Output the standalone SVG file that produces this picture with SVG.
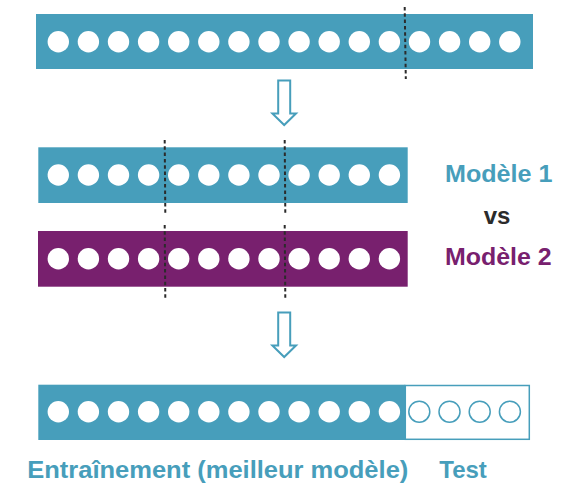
<svg xmlns="http://www.w3.org/2000/svg" width="563" height="492" viewBox="0 0 563 492">
<style>
.teal{fill:#479EBB}
.purple{fill:#78206E}
.dot{fill:#ffffff}
.odot{fill:#ffffff;stroke:#479EBB;stroke-width:1.5}
.cut{stroke:#2b2b2b;stroke-width:2;stroke-dasharray:3.5 2.8;fill:none}
.arrow{fill:#ffffff;stroke:#479EBB;stroke-width:2;stroke-linejoin:miter}
.lbl{font-family:"Liberation Sans",Arial,sans-serif;font-weight:bold;font-size:24px}
</style>
<defs>
<circle id="c" r="10.7" class="dot"/>
<circle id="oc" r="10.5" class="odot"/>
</defs>
<rect width="563" height="492" fill="#ffffff"/>
<g id="top-bar">
<rect x="36" y="14" width="497" height="55" class="teal"/>
<use href="#c" x="58.3" y="41.7"/><use href="#c" x="88.4" y="41.7"/><use href="#c" x="118.5" y="41.7"/><use href="#c" x="148.6" y="41.7"/>
<use href="#c" x="178.7" y="41.7"/><use href="#c" x="208.8" y="41.7"/><use href="#c" x="238.9" y="41.7"/><use href="#c" x="269" y="41.7"/>
<use href="#c" x="299.1" y="41.7"/><use href="#c" x="329.2" y="41.7"/><use href="#c" x="359.3" y="41.7"/><use href="#c" x="389.4" y="41.7"/>
<use href="#c" x="419.5" y="41.7"/><use href="#c" x="449.6" y="41.7"/><use href="#c" x="479.7" y="41.7"/><use href="#c" x="509.8" y="41.7"/>
</g>
<g id="model1-bar">
<rect x="38.3" y="147.3" width="369.4" height="55.7" class="teal"/>
<use href="#c" x="58.3" y="175"/><use href="#c" x="88.4" y="175"/><use href="#c" x="118.5" y="175"/><use href="#c" x="148.6" y="175"/>
<use href="#c" x="178.7" y="175"/><use href="#c" x="208.8" y="175"/><use href="#c" x="238.9" y="175"/><use href="#c" x="269" y="175"/>
<use href="#c" x="299.1" y="175"/><use href="#c" x="329.2" y="175"/><use href="#c" x="359.3" y="175"/><use href="#c" x="389.4" y="175"/>
</g>
<g id="model2-bar">
<rect x="38" y="231" width="369.7" height="55.7" class="purple"/>
<use href="#c" x="58.3" y="258.7"/><use href="#c" x="88.4" y="258.7"/><use href="#c" x="118.5" y="258.7"/><use href="#c" x="148.6" y="258.7"/>
<use href="#c" x="178.7" y="258.7"/><use href="#c" x="208.8" y="258.7"/><use href="#c" x="238.9" y="258.7"/><use href="#c" x="269" y="258.7"/>
<use href="#c" x="299.1" y="258.7"/><use href="#c" x="329.2" y="258.7"/><use href="#c" x="359.3" y="258.7"/><use href="#c" x="389.4" y="258.7"/>
</g>
<g id="final-bar">
<rect x="38.3" y="384.7" width="367" height="55.3" class="teal"/>
<rect x="405.3" y="385.5" width="124" height="53.8" fill="#ffffff" stroke="#479EBB" stroke-width="1.5"/>
<use href="#c" x="58.3" y="411.7"/><use href="#c" x="88.4" y="411.7"/><use href="#c" x="118.5" y="411.7"/><use href="#c" x="148.6" y="411.7"/>
<use href="#c" x="178.7" y="411.7"/><use href="#c" x="208.8" y="411.7"/><use href="#c" x="238.9" y="411.7"/><use href="#c" x="269" y="411.7"/>
<use href="#c" x="299.1" y="411.7"/><use href="#c" x="329.2" y="411.7"/><use href="#c" x="359.3" y="411.7"/><use href="#c" x="389.4" y="411.7"/>
<use href="#oc" x="419.3" y="411.7"/><use href="#oc" x="449.5" y="411.7"/><use href="#oc" x="479.7" y="411.7"/><use href="#oc" x="509.9" y="411.7"/>
</g>
<g id="connectors">
<line x1="404.7" y1="7" x2="405.8" y2="79" class="cut"/>
<line x1="164.7" y1="140" x2="165.3" y2="213" class="cut"/>
<line x1="164.7" y1="225" x2="165.3" y2="298" class="cut"/>
<line x1="284.7" y1="140" x2="285.3" y2="213" class="cut"/>
<line x1="284.7" y1="225" x2="285.3" y2="298" class="cut"/>
<path class="arrow" d="M278.2 80.5 H290.2 V113.5 H296 L284.2 125 L272.4 113.5 H278.2 Z"/>
<path class="arrow" d="M278.2 312.5 H290.2 V345.5 H296 L284.2 357 L272.4 345.5 H278.2 Z"/>
</g>
<g id="labels">
<text x="445" y="182.3" class="lbl" fill="#479EBB" textLength="107.5" lengthAdjust="spacingAndGlyphs">Modèle 1</text>
<text x="497" y="223.5" class="lbl" fill="#2b2b2b" text-anchor="middle">vs</text>
<text x="445" y="265" class="lbl" fill="#78206E" textLength="106.7" lengthAdjust="spacingAndGlyphs">Modèle 2</text>
<text x="27.3" y="478" class="lbl" fill="#479EBB" textLength="381" lengthAdjust="spacingAndGlyphs">Entraînement (meilleur modèle)</text>
<text x="439.3" y="478" class="lbl" fill="#479EBB">Test</text>
</g>
</svg>
